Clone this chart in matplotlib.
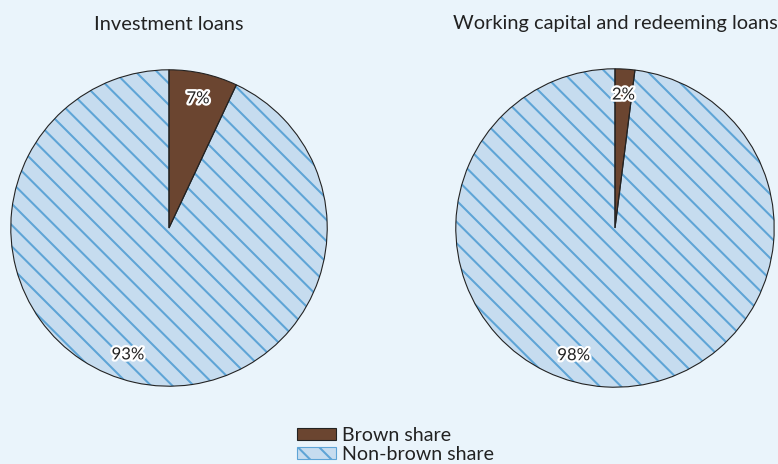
import matplotlib.pyplot as plt
import matplotlib.patches as mpatches
import matplotlib.patheffects as pe
import numpy as np

plt.rcParams['font.family'] = ['Lato', 'DejaVu Sans']
plt.rcParams['hatch.linewidth'] = 1.15

titles = ['Investment loans', 'Working capital and redeeming loans']
categories = ['Brown share', 'Non-brown share']
brown = [7, 2]
non_brown = [93, 98]

bg = '#eaf4fb'
brown_col = '#6b4530'
fill_col = '#c6dcef'
hatch_col = '#5ea4d6'
ink = '#222222'

W, H, DPI = 778, 464, 128
PT = 72 / DPI  # points per pixel
fig = plt.figure(figsize=(W / DPI, H / DPI), dpi=DPI, facecolor=bg)

# pie placement in pixels: centre x, centre y (from bottom), radius
spots = [(169, 236, 159), (615, 236, 160)]

label_fx = [pe.withStroke(linewidth=4.5 * PT, foreground='white')]

for title, b, nb, (cx, cy, r) in zip(titles, brown, non_brown, spots):
    ax = fig.add_axes([(cx - r) / W, (cy - r) / H, 2 * r / W, 2 * r / H])
    ax.set_facecolor(bg)
    vals = [b, nb]
    # fill + hatch
    wedges, _ = ax.pie(vals, colors=[brown_col, fill_col], startangle=90,
                       counterclock=False, radius=1,
                       wedgeprops=dict(linewidth=0, edgecolor=hatch_col))
    wedges[1].set_hatch('\\\\')
    wedges[0].set_edgecolor(brown_col)
    # outlines
    ax.pie(vals, colors=['none', 'none'], startangle=90, counterclock=False,
           radius=1, wedgeprops=dict(linewidth=1.1 * PT, edgecolor=ink))
    ax.set_xlim(-1.005, 1.005)
    ax.set_ylim(-1.005, 1.005)
    ax.set_aspect('equal')
    ax.axis('off')

    # value labels
    mid = np.deg2rad(90 - b / 100 * 180)
    ax.text(0.84 * np.cos(mid), 0.84 * np.sin(mid), f'{b}%', ha='center',
            va='center', fontsize=16.7 * PT, color=ink, path_effects=label_fx)
    ang = np.deg2rad(-108)
    ax.text(0.84 * np.cos(ang), 0.84 * np.sin(ang), f'{nb}%', ha='center',
            va='center', fontsize=16.7 * PT, color=ink, path_effects=label_fx)

    fig.text(cx / W, 1 - 24 / H, title, ha='center', va='center',
             fontsize=20 * PT, color=ink)

handles = [mpatches.Patch(facecolor=brown_col, edgecolor=ink, linewidth=1.1 * PT),
           mpatches.Patch(facecolor=fill_col, edgecolor=hatch_col, hatch='\\\\',
                          linewidth=1.1 * PT)]
leg = fig.legend(handles, categories, loc='center left',
                 bbox_to_anchor=(297 / W, 1 - 445 / H),
                 frameon=False, fontsize=19.6 * PT, handlelength=2.0,
                 handleheight=0.6, handletextpad=0.3, labelspacing=0.1,
                 borderpad=0, borderaxespad=0)
for t in leg.get_texts():
    t.set_color(ink)

fig.savefig('out.png', dpi=DPI, facecolor=bg)
